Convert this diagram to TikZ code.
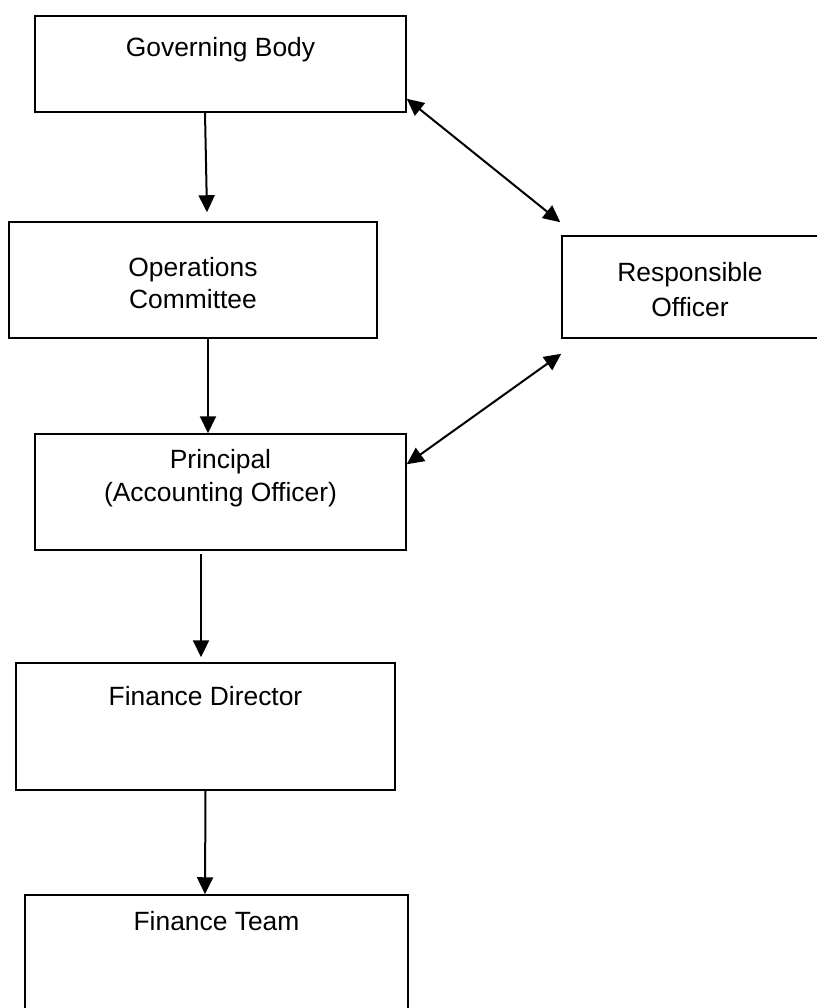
\documentclass[tikz,border=0pt]{standalone}
\usepackage{fontspec}
\setmainfont{Liberation Sans}
\usetikzlibrary{arrows.meta}
\tikzset{
    org-box/.style = {draw=black, fill=white, line width=0.75pt, rectangle, inner sep=0pt},
    org-text/.style = {font=\fontsize{13.2}{16}\selectfont, align=center, inner sep=0pt},
    org-arrow/.style = {line width=1pt, -{Triangle[length=8.5pt,width=8pt]}},
    org-both/.style = {line width=1pt, {Triangle[length=8.5pt,width=8pt]}-{Triangle[length=8.5pt,width=8pt]}},
}

\begin{document}
\begin{tikzpicture}[x=0.5pt, y=-0.5pt]
\useasboundingbox (0,0) rectangle (816,1008);
% boxes
\node[org-box, minimum width=185.5pt, minimum height=48pt] (gb) at (220.5,64) {};
\node[org-text, yshift=-17pt] (gb-text) at (gb.north) {Governing Body};
\node[org-box, minimum width=184pt, minimum height=58pt] (oc) at (193,280) {};
\node[org-text, yshift=-1.75pt] (oc-text) at (oc.center) {Operations\\Committee};
\node[org-box, minimum width=128pt, minimum height=51pt] (ro) at (690,287) {};
\node[org-text, font=\fontsize{13.2}{17.5}\selectfont, yshift=-1.5pt] (ro-text) at (ro.center) {Responsible\\Officer};
\node[org-box, minimum width=185.5pt, minimum height=58pt] (pr) at (220.5,492) {};
\node[org-text, font=\fontsize{13.2}{16.5}\selectfont, yshift=-22.5pt] (pr-text) at (pr.north) {Principal\\(Accounting Officer)};
\node[org-box, minimum width=189.5pt, minimum height=63.5pt] (fd) at (205.5,726.5) {};
\node[org-text, yshift=-17pt] (fd-text) at (fd.north) {Finance Director};
\node[org-box, minimum width=191.5pt, minimum height=67.5pt] (ft) at (216.5,962.5) {};
\node[org-text, yshift=-13.5pt] (ft-text) at (ft.north) {Finance Team};
% reporting lines
\draw[org-arrow] ([xshift=-7.75pt]gb.south) -- ([xshift=7pt,yshift=4.5pt]oc.north);
\draw[org-arrow] ([xshift=7.5pt]oc.south) -- ([xshift=-6.25pt]pr.north);
\draw[org-arrow] ([xshift=-9.75pt,yshift=-1.5pt]pr.south) -- ([xshift=-2.25pt,yshift=2.5pt]fd.north);
\draw[org-arrow] (fd.south) -- ([xshift=-5.75pt]ft.north);
% links to the responsible officer
\draw[org-both] ([yshift=7pt]gb.south east) -- ([xshift=-0.5pt,yshift=6.5pt]ro.north west);
\draw[org-both] ([yshift=-7.5pt]ro.south west) -- ([yshift=-15.5pt]pr.north east);
\end{tikzpicture}
\end{document}
